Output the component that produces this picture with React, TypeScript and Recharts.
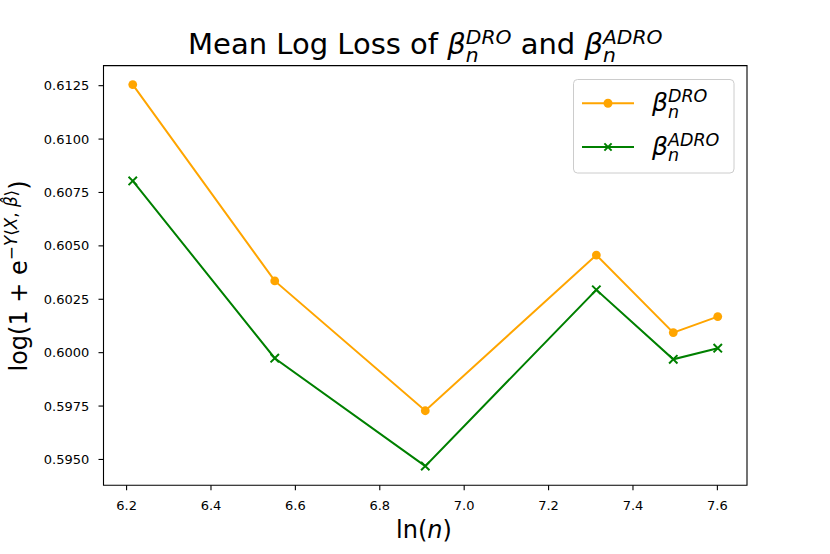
import React from 'react';
import { LineChart, Line, XAxis, YAxis, ReferenceArea, Legend } from 'recharts';

// ln(n) for n = 500, 700, 1000, 1500, 1800, 2000
const lnN = [6.2146, 6.5511, 6.9078, 7.3132, 7.4955, 7.6009];
const droLoss = [0.61255, 0.60336, 0.59728, 0.60457, 0.60094, 0.60169];
const adroLoss = [0.60804, 0.59974, 0.59469, 0.60294, 0.59969, 0.60021];

const xTicks = [6.2, 6.4, 6.6, 6.8, 7.0, 7.2, 7.4, 7.6];
const yTicks = [0.595, 0.5975, 0.6, 0.6025, 0.605, 0.6075, 0.61, 0.6125];
const xDomain = [6.1453, 7.6702];
const yDomain = [0.59379, 0.61344];

const data = lnN.map((x, i) => ({ x, dro: droLoss[i], adro: adroLoss[i] }));

const FONT = '"DejaVu Sans", sans-serif';
const ORANGE = '#ffa500';
const GREEN = '#008000';

const series = [
  { key: 'dro', color: ORANGE, sup: 'DRO', marker: 'circle' },
  { key: 'adro', color: GREEN, sup: 'ADRO', marker: 'x' },
];

// beta_n^{sup} as svg tspans, returns to baseline afterwards
function betaParts(fs: number, sup: string, id: string, after = '') {
  const s = fs * 0.7;
  const nW = 0.634 * s;
  const down = 0.27 * fs;
  const up = 0.35 * fs;
  return [
    <tspan key={id + 'b'} fontStyle="italic">β</tspan>,
    <tspan key={id + 'n'} fontStyle="italic" fontSize={s} dy={down}>n</tspan>,
    <tspan key={id + 's'} fontStyle="italic" fontSize={s} dx={-nW} dy={-(down + up)}>{sup}</tspan>,
    <tspan key={id + 'r'} fontSize={fs} dy={up}>{after}</tspan>,
  ];
}

const XMark = ({ cx, cy, r = 4.2, color, w = 2 }: any) => (
  <path
    d={`M${cx - r},${cy - r}L${cx + r},${cy + r}M${cx - r},${cy + r}L${cx + r},${cy - r}`}
    stroke={color}
    strokeWidth={w}
    fill="none"
  />
);

const LegendBox = () => (
  <svg width={162} height={95} style={{ display: 'block' }}>
    <rect x={0.5} y={0.5} width={160.5} height={93.5} rx={4} fill="#fff" fillOpacity={0.8} stroke="#cccccc" />
    {series.map((s, i) => {
      const y = 24.3 + i * 43.7;
      return (
        <g key={s.key}>
          <line x1={9} x2={61} y1={y} y2={y} stroke={s.color} strokeWidth={2} />
          {s.marker === 'circle' ? (
            <circle cx={35} cy={y} r={4.5} fill={s.color} />
          ) : (
            <XMark cx={35} cy={y} r={3.6} color={s.color} />
          )}
          <text x={79} y={y + 7.7} fontFamily={FONT} fontSize={25} fill="#000">
            {betaParts(25, s.sup, s.key)}
          </text>
        </g>
      );
    })}
  </svg>
);

export default function App() {
  return (
    <div style={{ position: 'absolute', left: 0, top: 0, width: 830, height: 554, background: '#fff' }}>
      <LineChart width={830} height={554} data={data} margin={{ top: 65.6, right: 83, bottom: 0, left: 0 }}>
        <XAxis
          dataKey="x"
          type="number"
          domain={xDomain}
          ticks={xTicks}
          allowDataOverflow
          height={68.7}
          axisLine={false}
          tickLine={{ stroke: '#000', strokeWidth: 1.1 }}
          tickSize={5}
          tickMargin={10.5}
          tick={{ fill: '#000', fontSize: 13, fontFamily: FONT }}
          tickFormatter={(v: number) => v.toFixed(1)}
          interval={0}
        />
        <YAxis
          type="number"
          domain={yDomain}
          ticks={yTicks}
          allowDataOverflow
          width={103.5}
          axisLine={false}
          tickLine={{ stroke: '#000', strokeWidth: 1.1 }}
          tickSize={5}
          tickMargin={9.2}
          tick={{ fill: '#000', fontSize: 13, fontFamily: FONT }}
          tickFormatter={(v: number) => v.toFixed(4)}
          interval={0}
        />
        <ReferenceArea
          x1={xDomain[0]}
          x2={xDomain[1]}
          y1={yDomain[0]}
          y2={yDomain[1]}
          fill="none"
          stroke="#000"
          strokeWidth={1.1}
          ifOverflow="visible"
        />
        <Line
          dataKey="dro"
          type="linear"
          stroke={ORANGE}
          strokeWidth={2}
          dot={(p: any) => <circle key={'d' + p.index} cx={p.cx} cy={p.cy} r={4.4} fill={ORANGE} />}
          activeDot={false}
          isAnimationActive={false}
        />
        <Line
          dataKey="adro"
          type="linear"
          stroke={GREEN}
          strokeWidth={2}
          dot={(p: any) => <XMark key={'a' + p.index} cx={p.cx} cy={p.cy} color={GREEN} />}
          activeDot={false}
          isAnimationActive={false}
        />
        <Legend
          layout="vertical"
          align="center"
          verticalAlign="middle"
          content={() => <LegendBox />}
          wrapperStyle={{ left: 573, top: 79, width: 162, height: 95 }}
        />
      </LineChart>
      <svg
        width={830}
        height={554}
        style={{ position: 'absolute', left: 0, top: 0, pointerEvents: 'none' }}
      >
        <text x={425.3} y={54.3} textAnchor="middle" fontFamily={FONT} fontSize={29} fill="#000">
          <tspan>Mean Log Loss of </tspan>
          {betaParts(29, 'DRO', 't1', ' and ')}
          {betaParts(29, 'ADRO', 't2')}
        </text>
        <text x={424} y={538.3} textAnchor="middle" fontFamily={FONT} fontSize={24} fill="#000">
          <tspan>ln(</tspan>
          <tspan fontStyle="italic">n</tspan>
          <tspan>)</tspan>
        </text>
        <text
          transform="rotate(-90)"
          x={-276}
          y={27}
          textAnchor="middle"
          fontFamily={FONT}
          fontSize={24}
          fill="#000"
        >
          <tspan>log(1 + e</tspan>
          <tspan fontSize={16.8} dy={-10}>−</tspan>
          <tspan fontSize={16.8} fontStyle="italic">Y</tspan>
          <tspan fontSize={16.8}>⟨</tspan>
          <tspan fontSize={16.8} fontStyle="italic">X</tspan>
          <tspan fontSize={16.8}>, </tspan>
          <tspan fontSize={16.8} fontStyle="italic">β̂</tspan>
          <tspan fontSize={16.8}>⟩</tspan>
          <tspan dy={10}>)</tspan>
        </text>
      </svg>
    </div>
  );
}
